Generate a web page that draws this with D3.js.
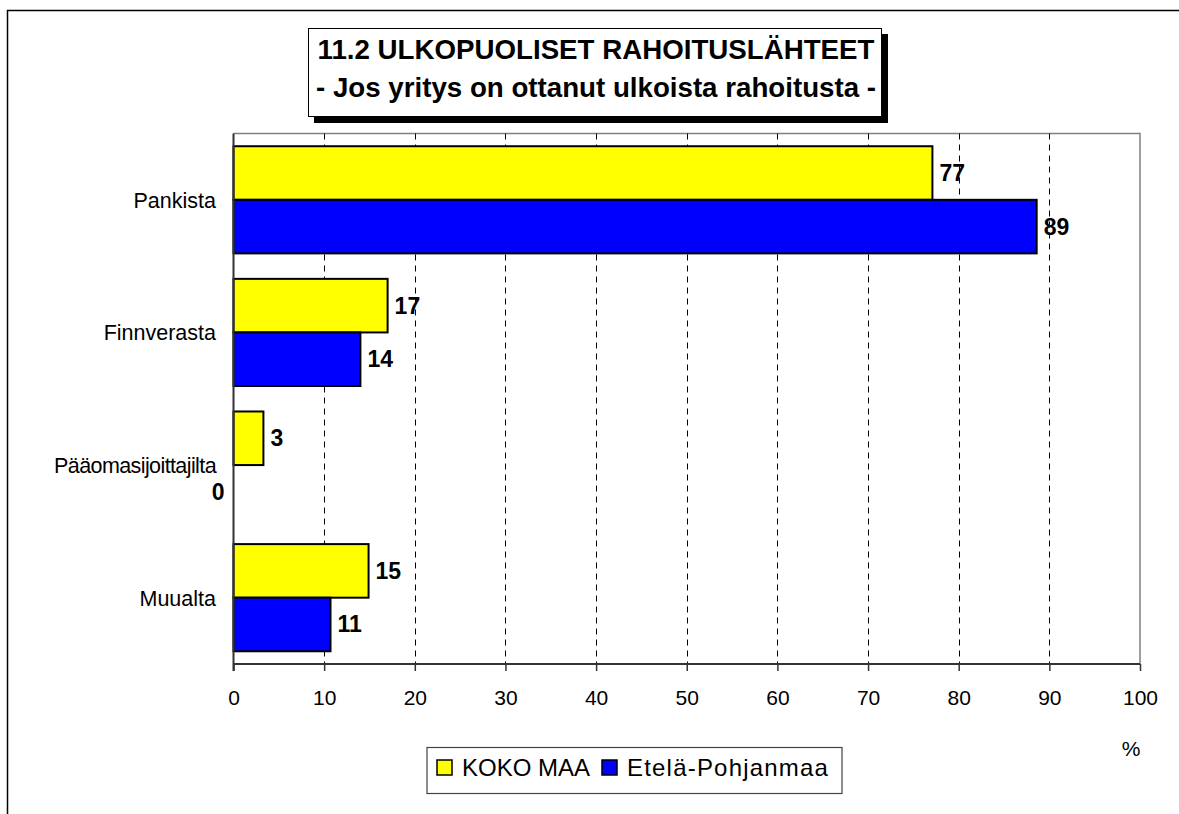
<!DOCTYPE html>
<html><head><meta charset="utf-8">
<script src="https://cdn.jsdelivr.net/npm/d3@7"></script>
<style>
body{margin:0;background:#fff;}
svg{display:block;font-family:"Liberation Sans",Arial,sans-serif;}
</style></head>
<body><svg id="c" width="1179" height="814"></svg>
<script>
const categories = ["Pankista","Finnverasta","Pääomasijoittajilta","Muualta"];
const seriesNames = ["KOKO MAA","Etelä-Pohjanmaa"];
const kokoMaa = [77.1, 17.0, 3.3, 14.9];
const etelaPohjanmaa = [88.6, 14.0, 0, 10.7];
const kokoMaaLabels = ["77","17","3","15"];
const etelaLabels = ["89","14","0","11"];
const xTicks = [0,10,20,30,40,50,60,70,80,90,100];
const titleLines = ["11.2 ULKOPUOLISET RAHOITUSLÄHTEET","- Jos yritys on ottanut ulkoista rahoitusta -"];
const colors = ["#FFFF00","#0000FF"];

const svg = d3.select("#c");
// outer frame
svg.append("path").attr("d","M7.5,830 V10.5 H1190").attr("fill","none").attr("stroke","#000").attr("stroke-width",1.5);

const L=233.5, R=1140, T=133.5, B=664;
const x = d3.scaleLinear().domain([0,100]).range([L,R]);
const y = d3.scaleBand().domain(categories).range([T,B]).paddingInner(0.192).paddingOuter(0.096);
const ys = d3.scaleBand().domain([0,1]).range([0,y.bandwidth()]);

// plot border (top/right gray)
svg.append("path").attr("d",`M${L},${T} H${R} V${B}`).attr("fill","none").attr("stroke","#808080").attr("stroke-width",1.5);

// gridlines
svg.append("g").selectAll("line").data(xTicks.filter(d=>d>0&&d<100)).join("line")
  .attr("x1",d=>Math.round(x(d))+0.5).attr("x2",d=>Math.round(x(d))+0.5)
  .attr("y1",T).attr("y2",B).attr("stroke","#000").attr("stroke-width",1).attr("stroke-dasharray","6,5");

// bars
const series = [kokoMaa, etelaPohjanmaa];
const labels = [kokoMaaLabels, etelaLabels];
series.forEach((vals,si)=>{
  const g = svg.append("g");
  g.selectAll("rect").data(vals.map((v,i)=>({v,i}))).join("rect")
    .filter(d=>d.v>0)
    .attr("x",x(0)).attr("y",d=>y(categories[d.i])+ys(si))
    .attr("width",d=>x(d.v)-x(0)).attr("height",ys.bandwidth())
    .attr("fill",colors[si]).attr("stroke","#000").attr("stroke-width",2);
  g.selectAll("text").data(vals.map((v,i)=>({v,i}))).join("text")
    .attr("x",d=>d.v>0 ? x(d.v)+7 : x(0)-9)
    .attr("text-anchor",d=>d.v>0?"start":"end")
    .attr("y",d=>y(categories[d.i])+ys(si)+ys.bandwidth()/2+8)
    .attr("font-size",23).attr("font-weight","bold").text(d=>labels[si][d.i]);
});

// axes
const xAxis = svg.append("g").attr("transform",`translate(0,${B})`)
  .call(d3.axisBottom(x).tickValues(xTicks).tickSize(7).tickPadding(19));
xAxis.select(".domain").attr("stroke","#333").attr("stroke-width",2).attr("d",`M${L},0H${R}`);
xAxis.selectAll(".tick line").attr("stroke","#333").attr("stroke-width",1.5);
xAxis.selectAll(".tick text").attr("font-size",21).attr("font-family","Liberation Sans, Arial, sans-serif").attr("fill","#000");

svg.append("line").attr("x1",L).attr("x2",L).attr("y1",T).attr("y2",B+7).attr("stroke","#333").attr("stroke-width",2);

// category labels
svg.append("g").selectAll("text").data(categories).join("text")
  .attr("x",216).attr("y",d=>y(d)+y.bandwidth()/2+8).attr("text-anchor","end")
  .attr("font-size",21.5).attr("letter-spacing",d=>d.length>12?-0.6:0).text(d=>d);

// % label
svg.append("text").attr("x",1131).attr("y",756).attr("text-anchor","middle").attr("font-size",21).text("%");

// title box
svg.append("rect").attr("x",314).attr("y",34).attr("width",574).attr("height",89).attr("fill","#000");
svg.append("rect").attr("x",308.5).attr("y",28.5).attr("width",573).attr("height",88).attr("fill","#fff").attr("stroke","#000").attr("stroke-width",1);
svg.append("g").selectAll("text").data(titleLines).join("text")
  .attr("x",596).attr("y",(d,i)=>59+i*38).attr("text-anchor","middle")
  .attr("font-size",27.7).attr("font-weight","bold").text(d=>d);

// legend
const lg = svg.append("g");
lg.append("rect").attr("x",427).attr("y",747.5).attr("width",415).attr("height",46).attr("fill","#fff").attr("stroke","#444").attr("stroke-width",1.2);
const lx = [437, 602];
const ls = [0, 1.2];
seriesNames.forEach((n,i)=>{
  lg.append("rect").attr("x",lx[i]).attr("y",760).attr("width",15).attr("height",15).attr("fill",colors[i]).attr("stroke","#000").attr("stroke-width",1.5);
  lg.append("text").attr("x",lx[i]+25).attr("y",776).attr("font-size",24).attr("letter-spacing",ls[i]).text(n);
});
</script></body></html>
